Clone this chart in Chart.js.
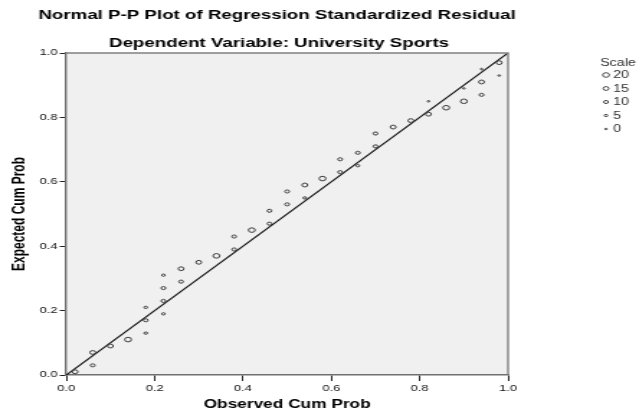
<!DOCTYPE html>
<html>
<head>
<meta charset="utf-8">
<script src="https://cdn.jsdelivr.net/npm/chart.js@4/dist/chart.umd.min.js"></script>
<style>
html,body{margin:0;padding:0;background:#fff;}
#wrap{width:639px;height:417px;position:relative;overflow:hidden;}
#c{display:block;width:639px;height:417px;}
</style>
</head>
<body>
<div id="wrap"><canvas id="c" width="444" height="417" style="width:639px;height:417px;"></canvas></div>
<script>
// ---- data ----
const observedCumProb = [0.02,0.06,0.06,0.10,0.14,0.18,0.18,0.18,0.22,0.22,0.22,0.22,0.26,0.26,0.30,0.34,0.38,0.38,0.42,0.46,0.46,0.50,0.50,0.54,0.54,0.58,0.62,0.62,0.66,0.66,0.70,0.70,0.74,0.78,0.82,0.82,0.86,0.90,0.90,0.94,0.94,0.94,0.98,0.98];
const expectedCumProb = [0.01,0.03,0.07,0.09,0.11,0.13,0.17,0.21,0.19,0.23,0.27,0.31,0.29,0.33,0.35,0.37,0.39,0.43,0.45,0.47,0.51,0.53,0.57,0.55,0.59,0.61,0.63,0.67,0.65,0.69,0.71,0.75,0.77,0.79,0.81,0.85,0.83,0.85,0.89,0.87,0.91,0.95,0.93,0.97];
const pointScale = [15,10,15,15,20,5,10,5,5,10,10,5,10,15,15,20,10,10,20,10,10,10,10,5,15,20,10,10,5,10,10,10,15,15,15,0,20,20,0,10,15,0,0,15];
const legendScale = [20,15,10,5,0];
const xTicks = [0,0.2,0.4,0.6,0.8,1.0];
const yTicks = [0,0.2,0.4,0.6,0.8,1.0];
const diagonal = [{x:0,y:0},{x:1,y:1}];
const titleLines = ["Normal P-P Plot of Regression Standardized Residual","Dependent Variable: University Sports"];
const xTitle = "Observed Cum Prob";
const yTitle = "Expected Cum Prob";
const legendTitle = "Scale";

// the reference is horizontally stretched; draw at a narrower internal width and let CSS stretch it
const K = 639/444;
const FONT = "Arial, 'Liberation Sans', sans-serif";
function radiusFor(s){ return 0.8 + s*0.075; }

const points = observedCumProb.map((x,i)=>({x:x,y:expectedCumProb[i]}));

const decor = {
  id:'decor',
  beforeDraw(chart){
    const {ctx, chartArea:a} = chart;
    ctx.save();
    ctx.fillStyle = '#f0f0f0';
    ctx.fillRect(a.left, a.top, a.right-a.left, a.bottom-a.top);
    ctx.restore();
  },
  afterDraw(chart){
    const {ctx, chartArea:a} = chart;
    ctx.save();
    // frame top/right
    ctx.strokeStyle = '#808080';
    ctx.lineWidth = 1.4;
    ctx.beginPath();
    ctx.moveTo(a.left, a.top); ctx.lineTo(a.right, a.top); ctx.lineTo(a.right, a.bottom);
    ctx.stroke();
    // titles
    ctx.fillStyle = '#000';
    ctx.textAlign = 'center';
    ctx.textBaseline = 'middle';
    ctx.font = "bold 13px " + FONT;
    ctx.fillText(titleLines[0], 277/K, 15);
    ctx.fillText(titleLines[1], 279/K, 43);
    ctx.font = "bold 12px " + FONT;
    ctx.fillText(xTitle, (a.left+a.right)/2, 405);
    ctx.save();
    ctx.translate(20/K, (a.top+a.bottom)/2);
    ctx.rotate(-Math.PI/2);
    ctx.fillText(yTitle, 0, 0);
    ctx.restore();
    // legend
    ctx.font = "10px " + FONT;
    ctx.textAlign = 'left';
    ctx.fillStyle = '#333';
    ctx.fillText(legendTitle, 600/K, 63);
    legendScale.forEach((s,i)=>{
      const y = 75 + i*13.5;
      ctx.beginPath();
      ctx.strokeStyle = '#444';
      ctx.lineWidth = 1;
      ctx.arc(606/K, y, radiusFor(s), 0, Math.PI*2);
      ctx.stroke();
      ctx.fillStyle = '#333';
      ctx.fillText(String(s), 613/K, y+0.5);
    });
    ctx.restore();
  }
};

new Chart(document.getElementById('c'), {
  type:'scatter',
  data:{
    datasets:[
      {
        type:'line',
        data: diagonal,
        borderColor:'#111',
        borderWidth:1.2,
        pointRadius:0,
        fill:false,
        order:1
      },
      {
        data: points,
        pointRadius: pointScale.map(radiusFor),
        pointHoverRadius: pointScale.map(radiusFor),
        pointBackgroundColor:'rgba(0,0,0,0)',
        pointBorderColor:'#3c3c3c',
        pointBorderWidth:1,
        clip:false,
        order:0
      }
    ]
  },
  plugins:[decor],
  options:{
    responsive:false,
    animation:false,
    devicePixelRatio:1,
    events:[],
    layout:{padding:{left:0,top:53,right:444-Math.round(508/K),bottom:0}},
    plugins:{legend:{display:false}, tooltip:{enabled:false}, title:{display:false}},
    scales:{
      x:{
        type:'linear', min:0, max:1,
        afterFit(s){ s.height = 42; },
        afterBuildTicks(s){ s.ticks = xTicks.map(v=>({value:v})); },
        ticks:{ callback:v=>v.toFixed(1), color:'#111', font:{family:FONT,size:9}, padding:2, maxRotation:0 },
        grid:{ display:true, drawOnChartArea:false, drawTicks:true, tickLength:6, color:'#222', lineWidth:1 },
        border:{ display:true, color:'#707070', width:1.4 }
      },
      y:{
        type:'linear', min:0, max:1,
        afterFit(s){ s.width = Math.round(66/K); },
        afterBuildTicks(s){ s.ticks = yTicks.map(v=>({value:v})); },
        ticks:{ callback:v=>v.toFixed(1), color:'#111', font:{family:FONT,size:9}, padding:1.5 },
        grid:{ display:true, drawOnChartArea:false, drawTicks:true, tickLength:4.5, color:'#222', lineWidth:1 },
        border:{ display:true, color:'#707070', width:1.4 }
      }
    }
  }
});
</script>
</body>
</html>
